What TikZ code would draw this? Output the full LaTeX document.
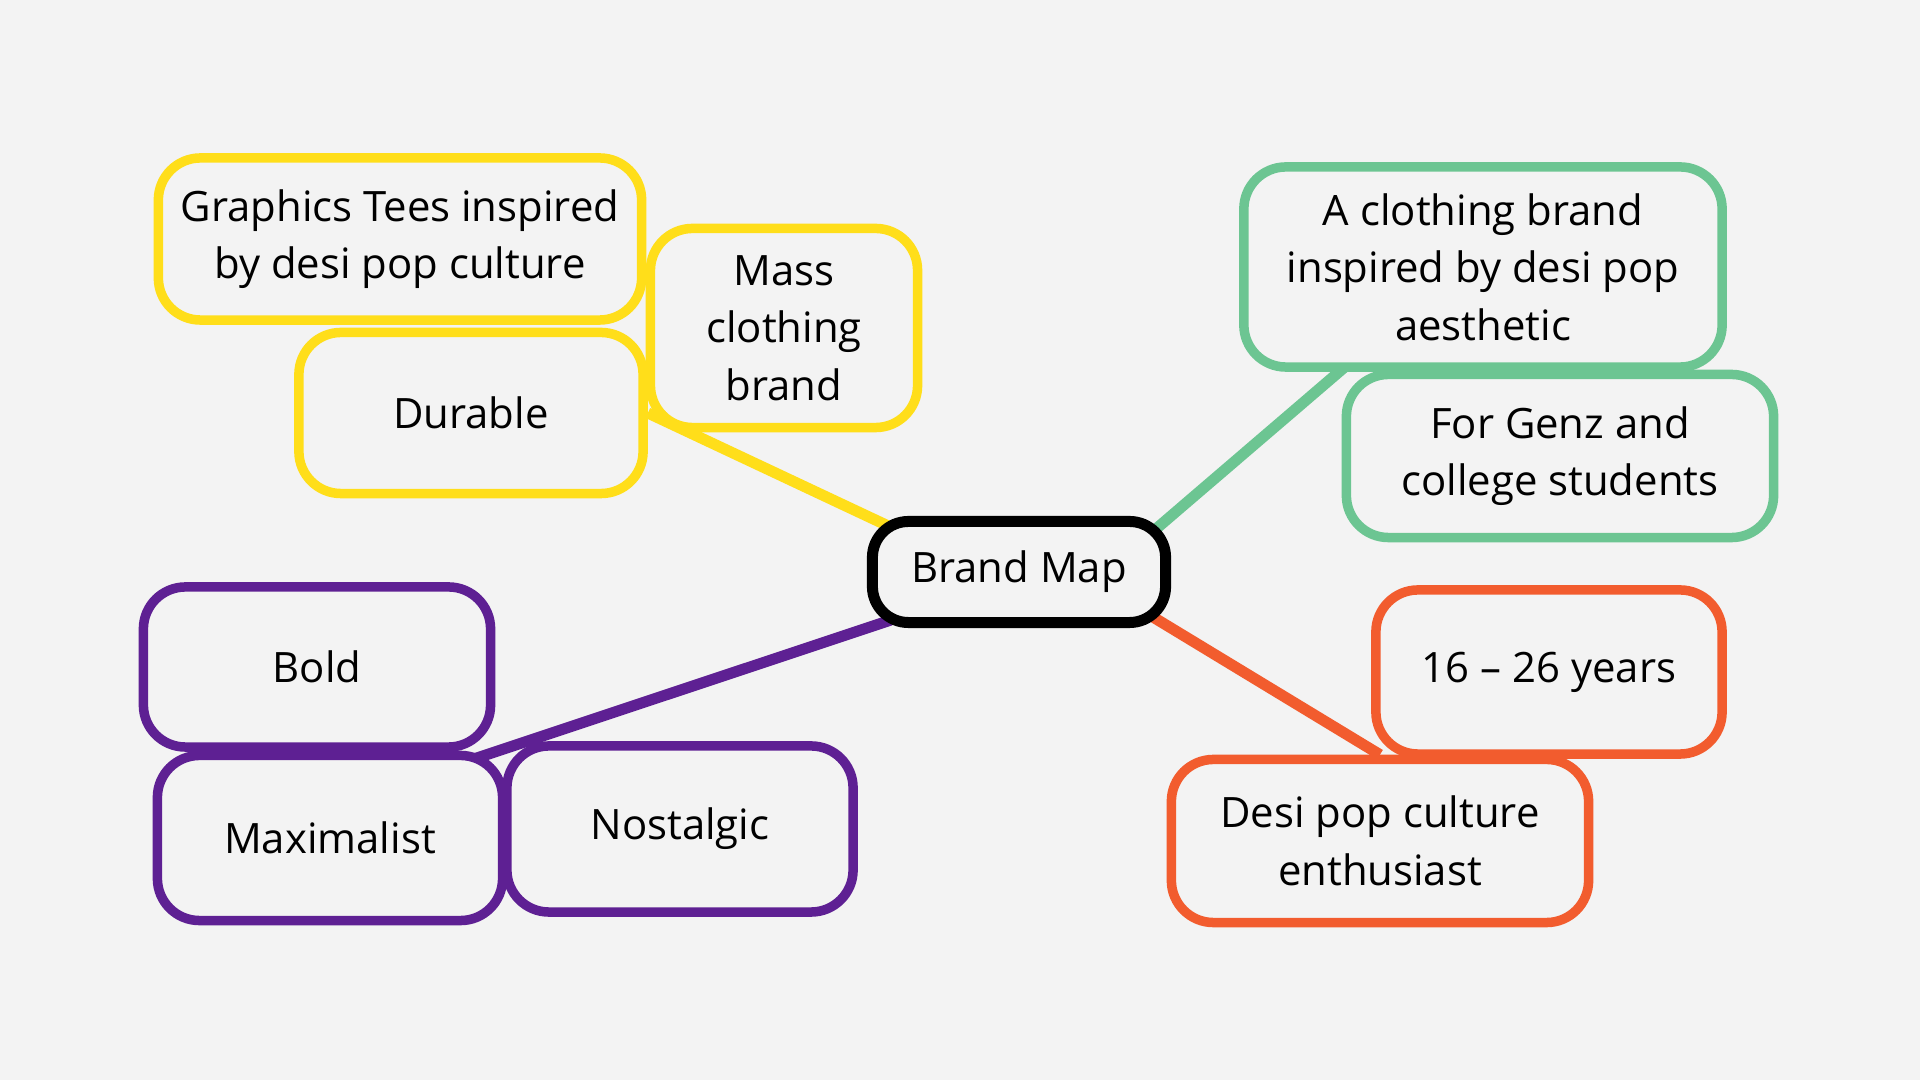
\documentclass[tikz,border=0pt]{standalone}
\usepackage{fontspec}
\setmainfont{Open Sans}
\usetikzlibrary{backgrounds}
\definecolor{bgray}{HTML}{F3F3F3}
\definecolor{myyellow}{HTML}{FFDE1A}
\definecolor{mygreen}{HTML}{6CC592}
\definecolor{myorange}{HTML}{F25C2E}
\definecolor{mypurple}{HTML}{5E2093}

\begin{document}
\begin{tikzpicture}[x=0.01cm, y=-0.01cm, font=\fontsize{11.9}{16.4}\selectfont]
    \tikzstyle{block} = [rectangle, draw, fill=bgray, line width=0.095cm, align=center, rounded corners=0.42cm, inner sep=0pt]
    \tikzstyle{hub}   = [block, draw=black, line width=0.11cm, rounded corners=0.36cm]
    \tikzstyle{ybox}  = [block, draw=myyellow]
    \tikzstyle{gbox}  = [block, draw=mygreen]
    \tikzstyle{obox}  = [block, draw=myorange]
    \tikzstyle{pbox}  = [block, draw=mypurple]
    \tikzstyle{line}  = [draw, line width=0.11cm, shorten <=-0.25cm]

    \useasboundingbox (0,0) rectangle (1920,1080);

    % Place nodes
    % Centre:
    \node [hub, minimum width=2.93cm, minimum height=1.01cm] (map) at (1019,572) {Brand Map};

    % Product:
    \node [ybox, minimum width=4.83cm, minimum height=1.62cm] (tees) at (400,239) {Graphics Tees inspired\\by desi pop culture};
    \node [ybox, minimum width=3.44cm, minimum height=1.61cm] (durable) at (471,413) {Durable};
    \node [ybox, minimum width=2.67cm, minimum height=1.99cm] (mass) at (784,328) {Mass\\clothing\\brand};

    % Brand:
    \node [gbox, minimum width=4.78cm, minimum height=2.00cm] (aesthetic) at (1483,267) {A clothing brand\\inspired by desi pop\\aesthetic};
    \node [gbox, minimum width=4.27cm, minimum height=1.63cm] (genz) at (1560,456) {For Genz and\\college students};

    % Audience:
    \node [obox, minimum width=3.46cm, minimum height=1.64cm] (age) at (1549,672) {16 – 26 years};
    \node [obox, minimum width=4.17cm, minimum height=1.63cm] (fan) at (1380,841) {Desi pop culture\\enthusiast};

    % Personality:
    \node [pbox, minimum width=3.47cm, minimum height=1.60cm] (bold) at (317,667) {Bold};
    \node [pbox, minimum width=3.45cm, minimum height=1.65cm] (maximal) at (330,838) {Maximalist};
    \node [pbox, minimum width=3.46cm, minimum height=1.66cm] (nostalgic) at (680,829) {Nostalgic};

    \begin{pgfonlayer}{background}
      \fill [bgray] (0,0) rectangle (1920,1080);
      \path [line, draw=myyellow] (map.north west) -- (durable.east);
      \path [line, draw=mygreen, shorten >=-0.1cm]  (map.north east) -- (genz.north west);
      \path [line, draw=myorange] (map.south east) -- (fan.north);
      \path [line, draw=mypurple, shorten >=-0.25cm] (map.south west) -- (bold.south east);
    \end{pgfonlayer}
\end{tikzpicture}
\end{document}
